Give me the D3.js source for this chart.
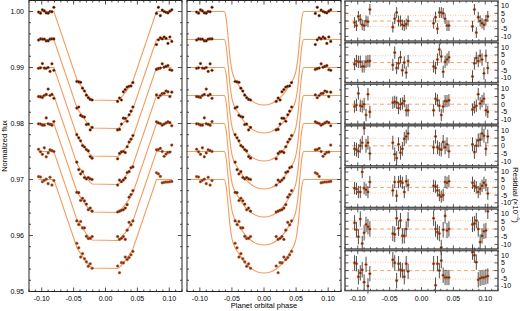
<!DOCTYPE html>
<html>
<head>
<meta charset="utf-8">
<script src="https://cdn.jsdelivr.net/npm/d3@7"></script>
<style>
  body { margin: 0; background: #fff; }
  text { font-family: "Liberation Sans", Arial, sans-serif; fill: #000; }
</style>
</head>
<body>
<svg id="chart" width="520" height="311"></svg>
<script>
// ---- data ----
const baselines = [1.000, 0.995, 0.990, 0.985, 0.980, 0.975, 0.970];

// orbital phase of each binned point (4 groups of 9)
const phases = [
  -0.105, -0.102, -0.099, -0.096, -0.093, -0.090, -0.087, -0.084, -0.081,
  -0.045, -0.042, -0.039, -0.036, -0.033, -0.030, -0.027, -0.024, -0.021,
   0.019,  0.022,  0.025,  0.028,  0.031,  0.034,  0.037,  0.040,  0.043,
   0.080,  0.083,  0.086,  0.089,  0.092,  0.095,  0.098,  0.101,  0.104
];
// transit depth of the fit at each point's phase
const fitDepth = [
  0, 0, 0, 0, 0, 0, 0, 0, 0,
  0.0121, 0.0127, 0.0132, 0.0137, 0.0142, 0.0147, 0.0151, 0.0155, 0.0158,
  0.0159, 0.0157, 0.0153, 0.0149, 0.0145, 0.0140, 0.0135, 0.0130, 0.0124,
  0, 0, 0, 0, 0, 0, 0, 0, 0
];
// residuals, units of 1e-4
const residuals = [
  [-1, -3, 3, 1, -2.5, -3, 0, -0.5, 7.5,   -4, 1.5, 5.5, 0, 0, -2.5, -3, -2, 0,
   -1.5, 2.5, -5, 5.5, 5.5, 5, 1.5, -3, -3,   -3.5, 7.5, -7.5, 2.5, 0, -1.5, -2.5, 0.5, 3],
  [-1, 1, 0.5, 0.5, -2.5, -2.5, 0.5, 1, 1,   -1.5, 6.5, -3.5, -0.5, 3.5, -5, 0, -6.5, 1,
   -2.5, -3.5, 2, 8.5, 4, -6, 0.5, 2, 3.5,   -9, -0.5, 3, 1, 4.5, 2, -7, 4.5, -3.5],
  [-1.5, -0.5, 7, -1, -1.5, 0, -7, 6.5, -5,   1, 1.5, 1, -2.5, 0, 0.5, 2, -4, -4,
   -4, 3.5, 2.5, -1, -7, -1.5, 2, 2, 2.5,   -3.5, -2, -1, 6.5, 0.5, 2, 3.5, -4, -5],
  [-2, -2.5, -3.5, 0, 2, 11.5, 0, 2, -5,   2, -5.5, -8, 1, -4.5, -2, 4.5, 6, 8,
   -1, 6, -1, -2, -2.5, 2.5, -1, 1, -3.5,   1, -4, 0, 3.5, 4, 8, 6.5, -2, 6],
  [-0.5, -1, -3, -3, 10, -0.5, -1.5, -3, 3.5,   -2, 3.5, -5.5, 3.5, 4, 3, -3, 4, 1.5,
   1, 0.5, -2, -5, -6, -5, 3.5, 3, 4,   3, 1, 0, -3, -1, 1, 3, 1.5, -4],
  [4, -0.5, -5, 6.5, -9.5, -2.5, 3, 1.5, 0,   -3, -3.5, 7, 0.5, 5.5, -4.5, -4.5, 0, 6,
   7, 0, -2, -3, -12, -0.5, 8.5, -1, 0,   3, 3.5, 5.5, 0, -8.5, -4.5, -1.5, -1, 11.5],
  [5, 4.5, -4, -1.5, 0.5, -7.5, 4, -10, -2,   7, 5, -6.5, 4.5, 0.5, 0, -4, 4.5, -0.5,
   4.5, -9.5, 4.5, 0, 6.5, -3, -4.5, -4.5, -4.5,   12, 10, 5.5, -6, -5, -4.5, -4.5, -4, -3.5]
];
const residualRms = [3.5, 4.4, 4.0, 4.9, 3.7, 5.4, 5.5];
const errorBars = [3.5, 4.0, 4.0, 4.5, 4.0, 5.0, 5.0];

// smooth transit model (depth below baseline)
const modelPhase = [-0.120, -0.062, -0.059, -0.056, -0.053, -0.050, -0.047, -0.044, -0.040, -0.035,
  -0.030, -0.025, -0.020, -0.010, 0.000, 0.010, 0.020, 0.025, 0.030, 0.035, 0.040, 0.044,
  0.047, 0.050, 0.053, 0.056, 0.059, 0.062, 0.120];
const modelDepth = [0, 0, 0.0012, 0.0045, 0.0082, 0.0105, 0.0117, 0.0124, 0.0131, 0.0140,
  0.0148, 0.0154, 0.0159, 0.0165, 0.0167, 0.0165, 0.0159, 0.0154, 0.0148, 0.0140, 0.0131, 0.0124,
  0.0117, 0.0105, 0.0082, 0.0045, 0.0012, 0, 0];

const fluxTicks = [0.95, 0.96, 0.97, 0.98, 0.99, 1.00];
const fluxLabels = ["0.95", "0.96", "0.97", "0.98", "0.99", "1.00"];
const phaseTicks = [-0.10, -0.05, 0.00, 0.05, 0.10];
const phaseLabels = ["-0.10", "-0.05", "0.00", "0.05", "0.10"];
const residTicks = [10, 5, 0, -5, -10];
const pointFill = ["#340701", "#3f0b02", "#4a1004", "#561607", "#621e0a", "#70270e", "#7f3113"];

// ---- layout ----
const svg = d3.select("#chart");
const plotTop = 0.5, plotBot = 291.5;
const panels = [[29, 182], [187, 341], [345, 498]];
const orange = "#f39c5e";

const y = d3.scaleLinear().domain([0.95, 1.002]).range([291.5, 0.3]);
const xs = panels.map(p => d3.scaleLinear().domain([-0.12, 0.12]).range(p));

function frame(x0, y0, x1, y1, color, w) {
  svg.append("rect").attr("x", x0).attr("y", y0).attr("width", x1 - x0).attr("height", y1 - y0)
    .attr("fill", "none").attr("stroke", color).attr("stroke-width", w);
}

function xTicks(x, y0, y1, majLen, minLen, color) {
  const minors = x.ticks(24);
  minors.forEach(v => {
    const isMaj = phaseTicks.some(t => Math.abs(t - v) < 1e-6);
    const L = isMaj ? majLen : minLen;
    [[y1, y1 - L], [y0, y0 + L]].forEach(([a, b]) => {
      svg.append("line").attr("x1", x(v)).attr("x2", x(v)).attr("y1", a).attr("y2", b)
        .attr("stroke", color).attr("stroke-width", 0.8);
    });
  });
}

function yTicks(yScale, vals, x0, x1, color) {
  vals.forEach(([v, L]) => {
    [[x0, x0 + L], [x1, x1 - L]].forEach(([a, b]) => {
      svg.append("line").attr("x1", a).attr("x2", b).attr("y1", yScale(v)).attr("y2", yScale(v))
        .attr("stroke", color).attr("stroke-width", 0.8);
    });
  });
}

// ---- light-curve panels ----
[0, 1].forEach(pi => {
  const x = xs[pi];
  const [x0, x1] = panels[pi];
  const g = svg.append("g");

  baselines.forEach(b => {
    let line;
    if (pi === 0) {
      line = d3.line().x((d, i) => x(phases[i])).y((d, i) => y(b - fitDepth[i]));
      g.append("path").datum(phases).attr("d", line)
        .attr("fill", "none").attr("stroke", orange).attr("stroke-width", 1.1);
    } else {
      line = d3.line().curve(d3.curveMonotoneX)
        .x((d, i) => x(modelPhase[i])).y((d, i) => y(b - modelDepth[i]));
      g.append("path").datum(modelPhase).attr("d", line)
        .attr("fill", "none").attr("stroke", orange).attr("stroke-width", 1.1);
    }
  });

  baselines.forEach((b, ci) => {
    g.selectAll(null).data(phases).join("circle")
      .attr("cx", d => x(d))
      .attr("cy", (d, i) => y(b - fitDepth[i] + residuals[ci][i] * 1e-4))
      .attr("r", 1.35)
      .attr("fill", pointFill[ci]).attr("stroke", "#c0602a").attr("stroke-width", 0.45);
  });

  frame(x0, plotTop, x1, plotBot, "#222", 1);
  xTicks(x, plotTop, plotBot, 4, 2, "#222");
  const fy = y.ticks(26).map(v => [v, fluxTicks.some(t => Math.abs(t - v) < 1e-6) ? 4 : 2]);
  yTicks(y, fy, x0, x1, "#222");

  g.selectAll("text.xl").data(phaseTicks).join("text")
    .attr("x", d => x(d)).attr("y", 301).attr("text-anchor", "middle")
    .attr("font-size", 7).text((d, i) => phaseLabels[i]);
});

svg.selectAll("text.yl").data(fluxTicks).join("text")
  .attr("x", 24).attr("y", d => y(d)).attr("dy", "0.35em").attr("text-anchor", "end")
  .attr("font-size", 7).text((d, i) => fluxLabels[i]);

svg.append("text").attr("transform", "translate(7,146) rotate(-90)")
  .attr("text-anchor", "middle").attr("font-size", 7.5).text("Normalized flux");
svg.append("text").attr("x", 264).attr("y", 308).attr("text-anchor", "middle")
  .attr("font-size", 7.5).text("Planet orbital phase");

// ---- residual panels ----
const xr = xs[2];
const [rx0, rx1] = panels[2];
const step = 41.6, ph = 40;
residuals.forEach((res, k) => {
  const t = 1 + k * step;
  const yr = d3.scaleLinear().domain([-13, 13]).range([t + ph, t]);
  const g = svg.append("g");

  [residualRms[k], -residualRms[k]].forEach(v => {
    g.append("line").attr("x1", rx0).attr("x2", rx1).attr("y1", yr(v)).attr("y2", yr(v))
      .attr("stroke", "#f4b48a").attr("stroke-width", 0.8).attr("stroke-dasharray", "1,1.5");
  });
  g.append("line").attr("x1", rx0).attr("x2", rx1).attr("y1", yr(0)).attr("y2", yr(0))
    .attr("stroke", orange).attr("stroke-width", 0.9).attr("stroke-dasharray", "4,3");

  g.selectAll("line.err").data(phases).join("line")
    .attr("x1", d => xr(d)).attr("x2", d => xr(d))
    .attr("y1", (d, i) => yr(res[i] - errorBars[k])).attr("y2", (d, i) => yr(res[i] + errorBars[k]))
    .attr("stroke", "#3a3a3a").attr("stroke-width", 0.9);
  g.selectAll("circle").data(phases).join("circle")
    .attr("cx", d => xr(d)).attr("cy", (d, i) => yr(res[i])).attr("r", 1.3)
    .attr("fill", "#6a1e06").attr("stroke", "#d9773a").attr("stroke-width", 0.5);

  frame(rx0, t, rx1, t + ph, "#555", 1.5);
  xTicks(xr, t, t + ph, 3.5, 1.8, "#333");
  yTicks(yr, residTicks.map(v => [v, 3.5]), rx0, rx1, "#333");

  g.selectAll("text").data(residTicks).join("text")
    .attr("x", 501).attr("y", d => yr(d)).attr("dy", "0.35em").attr("font-size", 7)
    .text(d => d);
});

svg.selectAll("text.rx").data(phaseTicks).join("text")
  .attr("x", d => xr(d)).attr("y", 301).attr("text-anchor", "middle")
  .attr("font-size", 7).text((d, i) => phaseLabels[i]);

const lab = svg.append("text").attr("transform", "translate(513,195) rotate(90)")
  .attr("text-anchor", "middle").attr("font-size", 7.5);
lab.append("tspan").text("Residual (\u00d710");
lab.append("tspan").attr("dy", -3).attr("font-size", 5.5).text("\u22124");
lab.append("tspan").attr("dy", 3).text(")");
</script>
</body>
</html>
